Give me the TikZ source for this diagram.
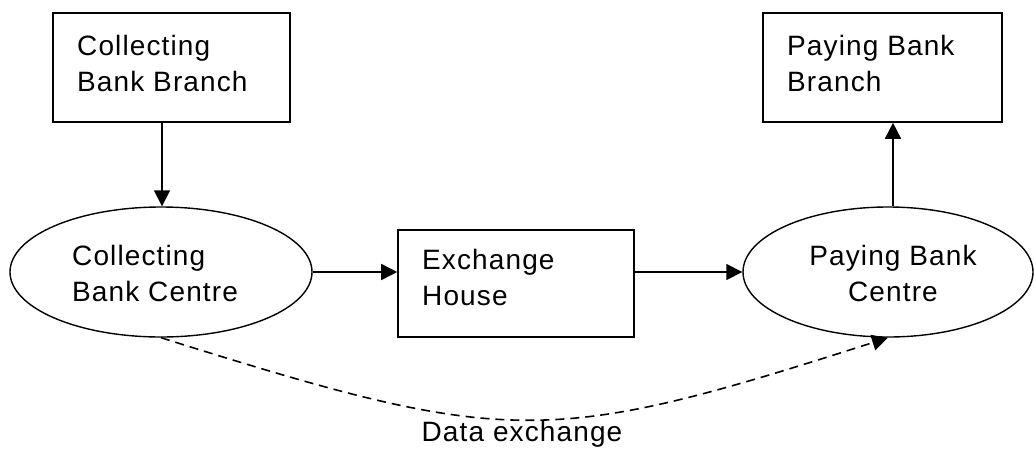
\documentclass[tikz,border=0pt]{standalone}
\usepackage{fontspec}
\setmainfont{Liberation Sans}[LetterSpace=4]
\usetikzlibrary{shapes.geometric,arrows.meta}
\begin{document}
\begin{tikzpicture}[x=1pt,y=-1pt,
  boxstyle/.style={draw,line width=1.6pt,rectangle,inner sep=0pt},
  ellstyle/.style={draw,line width=1.4pt,ellipse,inner sep=0pt},
  txt/.style={inner sep=0pt,font=\fontsize{28}{36}\selectfont,align=left},
  conn/.style={line width=1.6pt,-{Triangle[length=16pt,width=16pt]}},
  dconn/.style={line width=1.6pt,dash pattern=on 9pt off 6pt,-{Triangle[length=16pt,width=16pt]}}]
\useasboundingbox (0,0) rectangle (1034,448);
% shapes
\node[boxstyle,minimum width=237pt,minimum height=109pt] (b1) at (171.5,67.5) {};
\node[ellstyle,minimum width=302pt,minimum height=130pt] (e1) at (161,272) {};
\node[boxstyle,minimum width=236pt,minimum height=107pt] (b2) at (516,283.5) {};
\node[ellstyle,minimum width=290pt,minimum height=130pt] (e2) at (888,272) {};
\node[boxstyle,minimum width=239pt,minimum height=109pt] (b3) at (882.5,67.5) {};
% texts
\node[txt,anchor=north west] (t1) at (77,35) {Collecting\\Bank Branch};
\node[txt,anchor=north west] (t2) at (72,245) {Collecting\\Bank Centre};
\node[txt,anchor=north west] (t3) at (422,249) {Exchange\\House};
\node[txt,anchor=north,align=center] (t4) at (893,245) {Paying Bank\\Centre};
\node[txt,anchor=north west] (t5) at (787,35) {Paying Bank\\Branch};
\node[txt,anchor=base] (t6) at (522,441) {Data exchange};
% connectors
\draw[conn] (b1.south -| 162,0) -- (e1.north -| 162,0);
\draw[conn] (e1.east) -- (b2.west |- e1.east);
\draw[conn] (b2.east |- e2.west) -- (e2.west);
\draw[conn] (e2.north -| 893,0) -- (b3.south -| 893,0);
\draw[dconn] (e1.south) .. controls (509,447) and (547,447) .. (e2.south);
\end{tikzpicture}
\end{document}
